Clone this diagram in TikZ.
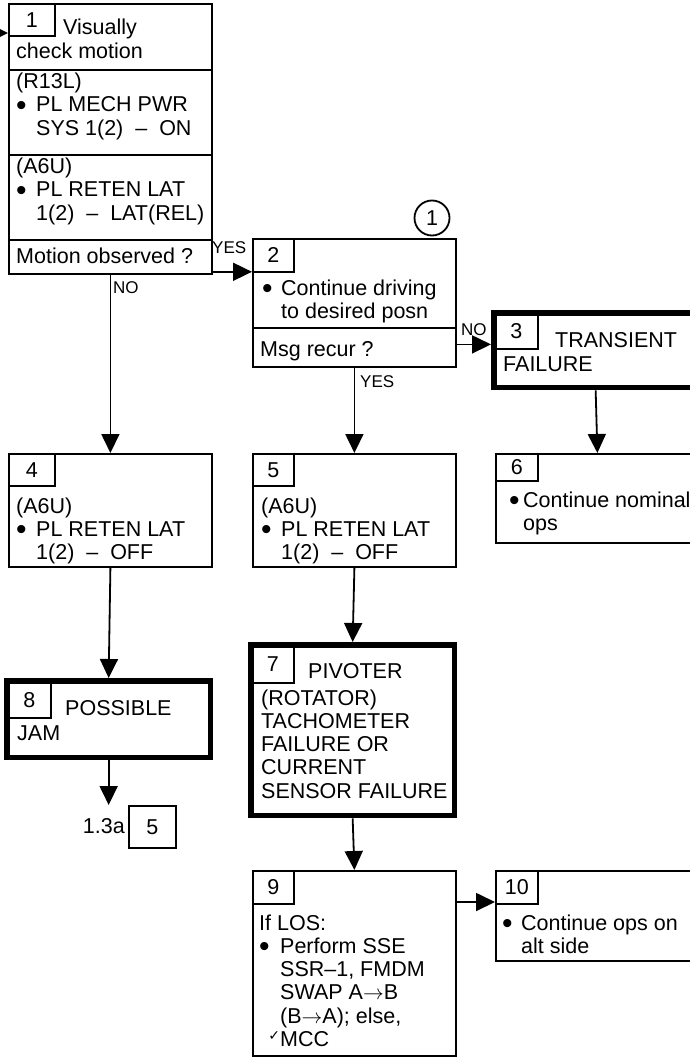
\documentclass[tikz,border=0pt]{standalone}
\usepackage{fontspec}
\setmainfont{Liberation Sans}
\newfontfamily\symfont{DejaVu Sans}
\usetikzlibrary{arrows.meta}
\newcommand{\bulw}[1]{\makebox[#1][l]{\raisebox{-3.3pt}{\fontsize{30}{23}\selectfont\textbullet}}}
\newcommand{\ind}[1]{\hspace*{#1}}
\begin{document}
\begin{tikzpicture}[x=1pt,y=-1pt,
  box/.style={draw, line width=1.8pt, inner sep=0, anchor=north west, font=\fontsize{21.5}{23}\selectfont},
  heavybox/.style={draw, line width=5.8pt, inner sep=0, anchor=north west},
  txt/.style={anchor=base west, inner sep=0, align=left, font=\fontsize{21.5}{23.3}\selectfont},
  lbl/.style={inner sep=0, font=\fontsize{17}{18}\selectfont},
  arr/.style={line width=1.8pt, -{Triangle[length=19pt,width=18pt]}}]
\useasboundingbox (0,0) rectangle (690,1057);
\fill[white] (0,0) rectangle (690,1057);
\clip (0,0) rectangle (690,1057);

% ---- box 1
\node[box, minimum width=203pt, minimum height=66pt] (b1a) at (8,3) {};
\node[box, minimum width=203pt, minimum height=85pt] (b1b) at (8,69) {};
\node[box, minimum width=203pt, minimum height=85pt] (b1c) at (8,154) {};
\node[box, minimum width=203pt, minimum height=34pt] (b1d) at (8,239) {};
\node[box, minimum width=46pt, minimum height=32pt] (n1) at (8,3) {1};
\node[txt] (t1a) at (63,35) {Visually};
\node[txt] (t1b) at (16,59) {check motion};
\node[txt] (t1c) at (16,135.1) {(R13L)\\\bulw{20pt}PL MECH PWR\\\ind{20pt}SYS 1(2)~ – ~ON};
\node[txt] (t1d) at (16,220.1) {(A6U)\\\bulw{20pt}PL RETEN LAT\\\ind{20pt}1(2)~ – ~LAT(REL)};
\node[txt] (t1e) at (16,263) {Motion observed ?};

% ---- box 2
\node[box, minimum width=203pt, minimum height=89pt] (b2a) at (252,238) {};
\node[box, minimum width=203pt, minimum height=39pt] (b2b) at (252,327) {};
\node[box, minimum width=41pt, minimum height=33pt] (n2) at (252,238) {2};
\node[txt] (t2a) at (262,318.3) {\bulw{19pt}Continue driving\\\ind{19pt}to desired posn};
\node[txt] (t2b) at (260,356) {Msg recur ?};
\node[draw, circle, line width=1.8pt, minimum size=35pt, inner sep=0, font=\fontsize{21.5}{23}\selectfont] (c1) at (432,218) {1};

% ---- box 3
\node[heavybox, minimum width=203.5pt, minimum height=74.5pt] (b3) at (491,310) {};
\node[box, minimum width=43pt, minimum height=35pt] (n3) at (494,313) {3};
\node[txt] (t3a) at (555,347) {TRANSIENT};
\node[txt] (t3b) at (503,371) {FAILURE};

% ---- box 6
\node[box, minimum width=203pt, minimum height=89pt] (b6) at (495,453) {};
\node[box, minimum width=42pt, minimum height=27pt] (n6) at (495,453) {6};
\node[txt] (t6) at (509,530.3) {\bulw{14pt}Continue nominal\\\ind{14pt}ops};

% ---- box 4
\node[box, minimum width=203pt, minimum height=113pt] (b4) at (8,453) {};
\node[box, minimum width=46pt, minimum height=32pt] (n4) at (8,453) {4};
\node[txt] (t4) at (16,559.6) {(A6U)\\\bulw{20pt}PL RETEN LAT\\\ind{20pt}1(2)~ – ~OFF};

% ---- box 5
\node[box, minimum width=203pt, minimum height=113pt] (b5) at (252,453) {};
\node[box, minimum width=41pt, minimum height=32pt] (n5) at (252,453) {5};
\node[txt] (t5) at (261,559.6) {(A6U)\\\bulw{20pt}PL RETEN LAT\\\ind{20pt}1(2)~ – ~OFF};

% ---- box 8
\node[heavybox, minimum width=203.5pt, minimum height=76.5pt] (b8) at (4,678) {};
\node[box, minimum width=43pt, minimum height=36pt] (n8) at (7,681) {8};
\node[txt] (t8a) at (65,715) {POSSIBLE};
\node[txt] (t8b) at (17,740) {JAM};
\node[box, minimum width=47pt, minimum height=42pt] (r5) at (128,805) {5};
\node[txt, anchor=base east] (t13a) at (125,833) {1.3a};

% ---- box 7
\node[heavybox, minimum width=203.5pt, minimum height=170.5pt] (b7) at (248,642) {};
\node[box, minimum width=42pt, minimum height=37pt] (n7) at (251,645) {7};
\node[txt] (t7a) at (308,678) {PIVOTER};
\node[txt] (t7b) at (261,798.2) {(ROTATOR)\\TACHOMETER\\FAILURE OR\\CURRENT\\SENSOR FAILURE};

% ---- box 9
\node[box, minimum width=203pt, minimum height=185pt] (b9) at (252,870) {};
\node[box, minimum width=41pt, minimum height=33pt] (n9) at (252,870) {9};
\node[txt] (t9) at (259,1046.5) {If LOS:\\\bulw{21pt}Perform SSE\\\ind{21pt}SSR–1, FMDM\\\ind{21pt}SWAP A$\rightarrow$B\\\ind{21pt}(B$\rightarrow$A); else,\\\makebox[21pt][r]{\raisebox{6pt}{\symfont\fontsize{14}{14}\selectfont ✓}}MCC};

% ---- box 10
\node[box, minimum width=203pt, minimum height=90pt] (b10) at (495,870) {};
\node[box, minimum width=42pt, minimum height=33pt] (n10) at (495,870) {10};
\node[txt] (t10) at (502,953.3) {\bulw{19pt}Continue ops on\\\ind{19pt}alt side};

% ---- labels
\node[lbl, anchor=west] (lyes1) at (212,248) {YES};
\node[lbl, anchor=west] (lno1) at (113,288) {NO};
\node[lbl, anchor=west] (lno2) at (461,330) {NO};
\node[lbl, anchor=west] (lyes2) at (360,382) {YES};

% ---- connectors
\coordinate (in1) at (-30,33);
\draw[arr] (in1) -- (in1 -| b1a.west);
\draw[arr] ([yshift=3pt]b1d.south east) -- ([yshift=3pt]b1d.south east -| b2a.west);
\draw[arr] (b1d.south) -- (b4.north);
\draw[arr] ([yshift=3pt]b2b.east) -- ([yshift=3pt]b2b.east -| b3.west);
\draw[arr] (b2b.south) -- (b5.north);
\draw[arr] (b3.south) -- (b6.north);
\draw[arr] (b4.south) -- (b8.north);
\draw[arr] (b8.south) -- (b8.south |- r5.north);
\draw[arr] (b5.south) -- (b7.north);
\draw[arr] (b7.south) -- (b9.north);
\draw[arr] ([yshift=-32pt]b9.north east) -- ([yshift=-32pt]b9.north east -| b10.west);
\end{tikzpicture}
\end{document}
